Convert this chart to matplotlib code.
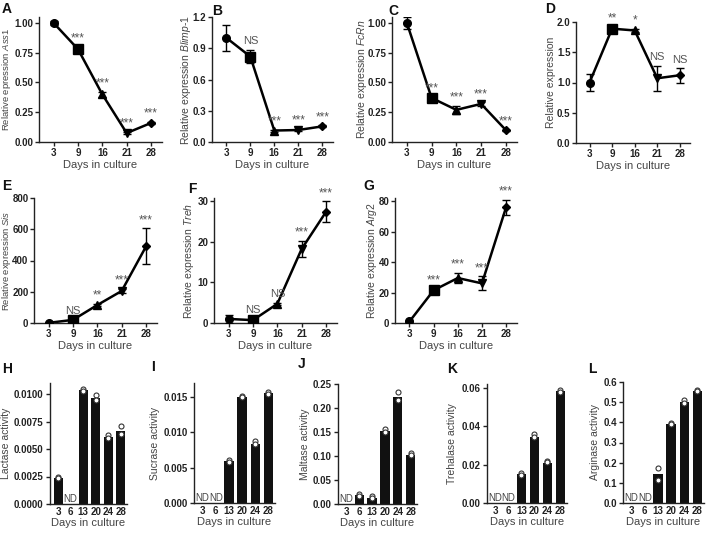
import matplotlib
matplotlib.use("Agg")
import matplotlib.pyplot as plt
import numpy as np

plt.rcParams['font.family'] = ['Liberation Sans', 'DejaVu Sans']
plt.rcParams['mathtext.fontset'] = 'custom'
plt.rcParams['mathtext.rm'] = 'Liberation Sans'
plt.rcParams['mathtext.it'] = 'Liberation Sans:italic'

# ---------------- data ----------------
days_expr = ["3", "9", "16", "21", "28"]

ass1 = [1.00, 0.78, 0.40, 0.075, 0.16]
ass1_err = [0.015, 0.025, 0.02, 0.01, 0.01]
ass1_sig = ["", "***", "***", "***", "***"]

blimp1 = [1.00, 0.82, 0.11, 0.115, 0.15]
blimp1_err = [0.125, 0.065, 0.01, 0.01, 0.01]
blimp1_sig = ["", "NS", "***", "***", "***"]

fcrn = [1.00, 0.37, 0.27, 0.32, 0.10]
fcrn_err = [0.05, 0.015, 0.035, 0.015, 0.005]
fcrn_sig = ["", "***", "***", "***", "***"]

gene_d = [1.00, 1.89, 1.86, 1.07, 1.12]
gene_d_err = [0.14, 0.03, 0.03, 0.21, 0.12]
gene_d_sig = ["", "**", "*", "NS", "NS"]

sis = [1, 20, 115, 205, 490]
sis_err = [3, 5, 8, 15, 115]
sis_sig = ["", "NS", "**", "***", "***"]

treh = [1.0, 0.7, 4.7, 18.2, 27.3]
treh_err = [0.9, 0.3, 0.3, 2.0, 2.6]
treh_sig = ["", "NS", "NS", "***", "***"]

arg2 = [1.0, 21.5, 29.5, 26.0, 76.0]
arg2_err = [0.5, 1.0, 3.3, 4.6, 5.0]
arg2_sig = ["", "***", "***", "***", "***"]

days_act = ["3", "6", "13", "20", "24", "28"]

lactase = [0.0024, None, 0.0104, 0.0096, 0.0061, 0.0066]
lactase_reps = [[0.0025, 0.0024], [], [0.0105, 0.0103], [0.0099, 0.0095],
                [0.0063, 0.0060], [0.0071, 0.0064]]

sucrase = [None, None, 0.0059, 0.0150, 0.0084, 0.0156]
sucrase_reps = [[], [], [0.0061, 0.0058], [0.0152, 0.0150], [0.0088, 0.0084],
                [0.0157, 0.0155]]

maltase = [None, 0.018, 0.0125, 0.153, 0.222, 0.103]
maltase_reps = [[], [0.021, 0.017], [0.016, 0.0125], [0.157, 0.151],
                [0.233, 0.217], [0.106, 0.103]]

trehalase = [None, None, 0.0152, 0.0345, 0.0210, 0.0581]
trehalase_reps = [[], [], [0.0155, 0.0148], [0.0357, 0.0345], [0.0221, 0.0212],
                  [0.0590, 0.0578]]

arginase = [None, None, 0.143, 0.390, 0.499, 0.557]
arginase_reps = [[], [], [0.174, 0.112], [0.397, 0.390], [0.512, 0.496],
                 [0.559, 0.554]]

# ---------------- layout ----------------
W, H = 706, 533
fig = plt.figure(figsize=(W / 100, H / 100), dpi=100)

TICK_C = '#222222'
LAB_C = '#444444'
SIG_C = '#555555'


def axbox(x0, y0, x1, y1):
    return fig.add_axes([x0 / W, 1 - y1 / H, (x1 - x0) / W, (y1 - y0) / H])


def style(ax):
    for s in ['top', 'right']:
        ax.spines[s].set_visible(False)
    for s in ['left', 'bottom']:
        ax.spines[s].set_linewidth(1.0)
        ax.spines[s].set_color('#222222')
    ax.tick_params(direction='out', length=3, width=1, colors=TICK_C,
                   labelsize=7, pad=1.5)


def set_yt(ax, ticks, fmt):
    ax.set_yticks(ticks)
    ax.set_yticklabels([fmt.format(t) for t in ticks], fontweight='bold')


def place_ylabel(ax, box, text, xc, size):
    ax.set_ylabel(text, fontsize=size, color=LAB_C, va='center')
    ax.yaxis.set_label_coords((xc - box[0]) / (box[2] - box[0]), 0.5)


markers = ['o', 's', '^', 'v', 'D']
msizes = [5.5, 6.5, 5.5, 5.5, 4.5]


def line_panel(box, vals, errs, sig, ylim, yticks, fmt, ylabel, xc, ylsize=7.5):
    ax = axbox(*box)
    style(ax)
    x = np.arange(len(days_expr))
    ax.plot(x, vals, color='k', lw=1.8, zorder=2)
    for i in range(len(x)):
        ax.errorbar(x[i], vals[i], yerr=errs[i], fmt=markers[i], color='k',
                    ms=msizes[i], capsize=3, elinewidth=1, capthick=1, zorder=3)
        if sig[i]:
            star = '*' in sig[i]
            ax.annotate(sig[i], (x[i], vals[i] + errs[i]),
                        xytext=(0, 1.5 if star else 2.5),
                        textcoords='offset points', ha='center', va='bottom',
                        fontsize=8.5 if star else 8, color=SIG_C)
    ax.set_xticks(x)
    ax.set_xticklabels(days_expr, fontweight='bold')
    ax.set_xlim(-0.6, 4.45)
    ax.set_ylim(*ylim)
    set_yt(ax, yticks, fmt)
    ax.tick_params(axis='y', pad=1)
    ax.set_xlabel("Days in culture", fontsize=8, color=LAB_C, labelpad=1)
    place_ylabel(ax, box, ylabel, xc, ylsize)
    return ax


def bar_panel(box, means, reps, ylim, yticks, fmt, ylabel, xc):
    ax = axbox(*box)
    style(ax)
    x = np.arange(len(days_act))
    for i in range(len(x)):
        if means[i] is None:
            ax.text(x[i], 0, "ND", ha='center', va='bottom', fontsize=7,
                    color=LAB_C)
            continue
        ax.bar(x[i], means[i], width=0.72, color='#111111', zorder=2)
        ax.plot([x[i]] * len(reps[i]), reps[i], 'o', ms=3.6, mfc='white',
                mec='#333333', mew=0.8, zorder=3, clip_on=False)
    ax.set_xticks(x)
    ax.set_xticklabels(days_act, fontweight='bold')
    ax.tick_params(axis='x', length=0, pad=2)
    ax.set_xlim(-0.65, 5.5)
    ax.set_ylim(*ylim)
    set_yt(ax, yticks, fmt)
    ax.set_xlabel("Days in culture", fontsize=8, color=LAB_C, labelpad=1)
    place_ylabel(ax, box, ylabel, xc, 7.5)
    return ax


line_panel((39, 17, 162, 142), ass1, ass1_err, ass1_sig, (0, 1.05),
           [0, 0.25, 0.5, 0.75, 1.0], "{:.2f}",
           r"Relative epression $\mathit{Ass1}$", 7, ylsize=6.8)
line_panel((212, 17, 333, 142), blimp1, blimp1_err, blimp1_sig, (0, 1.2),
           [0, 0.3, 0.6, 0.9, 1.2], "{:.1f}",
           r"Relative expression $\mathit{Blimp}$-$\mathit{1}$", 186)
line_panel((392, 17, 517, 142), fcrn, fcrn_err, fcrn_sig, (0, 1.05),
           [0, 0.25, 0.5, 0.75, 1.0], "{:.2f}",
           r"Relative expression $\mathit{FcRn}$", 362)
line_panel((576, 22, 690, 143), gene_d, gene_d_err, gene_d_sig, (0, 2.0),
           [0, 0.5, 1.0, 1.5, 2.0], "{:.1f}", "Relative expression", 551)
line_panel((34, 198, 157, 323), sis, sis_err, sis_sig, (0, 800),
           [0, 200, 400, 600, 800], "{:.0f}",
           r"Relative expression $\mathit{Sis}$", 6.5, ylsize=6.8)
line_panel((214, 198, 337, 323), treh, treh_err, treh_sig, (0, 30.7),
           [0, 10, 20, 30], "{:.0f}",
           r"Relative expression $\mathit{Treh}$", 189)
line_panel((395, 198, 517, 323), arg2, arg2_err, arg2_sig, (0, 82),
           [0, 20, 40, 60, 80], "{:.0f}",
           r"Relative expression $\mathit{Arg2}$", 372)

bar_panel((50, 383, 127, 504), lactase, lactase_reps, (0, 0.011),
          [0, 0.0025, 0.005, 0.0075, 0.01], "{:.4f}", "Lactase activity", 6)
bar_panel((194, 383, 275, 503), sucrase, sucrase_reps, (0, 0.017),
          [0, 0.005, 0.01, 0.015], "{:.3f}", "Sucrase activity", 155)
bar_panel((338, 384, 417, 504), maltase, maltase_reps, (0, 0.25),
          [0, 0.05, 0.1, 0.15, 0.2, 0.25], "{:.2f}", "Maltase activity", 305)
bar_panel((487, 384, 567, 503), trehalase, trehalase_reps, (0, 0.062),
          [0, 0.02, 0.04, 0.06], "{:.2f}", "Trehalase activity", 452)
bar_panel((623, 382, 704, 503), arginase, arginase_reps, (0, 0.6),
          [0, 0.1, 0.2, 0.3, 0.4, 0.5, 0.6], "{:.1f}", "Arginase activity", 595)

letters = [("A", 2, 2), ("B", 212, 4), ("C", 388, 4), ("D", 545, 2),
           ("E", 2, 179), ("F", 188, 182), ("G", 363, 179),
           ("H", 2, 362), ("I", 151, 360), ("J", 298, 357), ("K", 447, 362),
           ("L", 588, 362)]
for t, px, py in letters:
    fig.text(px / W, 1 - py / H, t, ha='left', va='top', fontsize=10,
             fontweight='bold', color='#111111')

fig.savefig("out.png", dpi=100)
